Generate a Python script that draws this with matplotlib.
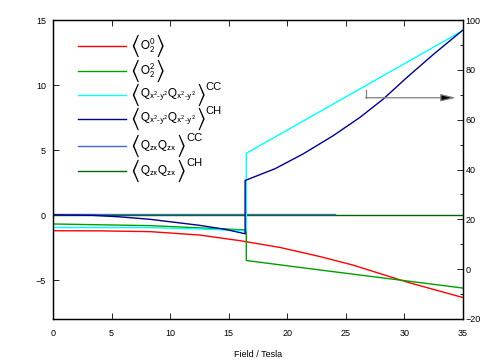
import matplotlib
matplotlib.use("Agg")
import matplotlib.pyplot as plt
from matplotlib.ticker import MultipleLocator

plt.rcParams['font.family'] = ['Liberation Sans', 'DejaVu Sans']
plt.rcParams['mathtext.fontset'] = 'stixsans'

# ---- data (left axis) ----
o20_x = [0, 4, 8.3, 12.5, 16.0, 19.4, 22.8, 25.6, 30.3, 35]
o20_y = [-1.21, -1.22, -1.28, -1.54, -1.98, -2.5, -3.2, -3.85, -5.18, -6.35]

o22_x = [0, 8.3, 16.5, 16.5, 22.8, 30.0, 35]
o22_y = [-0.69, -0.82, -1.15, -3.5, -4.23, -5.05, -5.62]

qzx_cc_x = [0, 24.1]
qzx_cc_y = [0.05, 0.05]

qzx_ch_x = [0, 35]
qzx_ch_y = [0.0, 0.0]

# ---- data (right axis) ----
qx2_cc_x = [0, 8.0, 12.0, 16.5, 16.5, 35]
qx2_cc_y = [16.7, 16.7, 16.2, 15.4, 46.5, 95.8]

qx2_ch_x = [0, 3.4, 5.7, 8.3, 10.4, 12.5, 14.7, 16.4, 16.4, 18.95, 21.37, 23.93, 26.2, 28.2, 30.2, 32.5, 35]
qx2_ch_y = [21.8, 21.6, 21.0, 20.0, 18.8, 17.6, 16.0, 14.2, 35.6, 40.3, 46.3, 53.6, 60.9, 68.3, 76.9, 86.3, 96.0]

x_ticks = [0, 5, 10, 15, 20, 25, 30, 35]
left_ticks = [-5, 0, 5, 10, 15]
right_ticks = [-20, 0, 20, 40, 60, 80, 100]

c_red = '#ff0000'
c_green = '#00a000'
c_cyan = '#00ffff'
c_navy = '#00008b'
c_blue = '#3f6fbf'
c_dgreen = '#006400'

fig = plt.figure(figsize=(4.88, 3.62), dpi=100)
ax = fig.add_axes([53/488, 1-319/362, 410/488, 299/362])
ax2 = ax.twinx()

lw = 1.0
ax.plot(qzx_ch_x, qzx_ch_y, color=c_dgreen, lw=lw)
ax.plot(qzx_cc_x, qzx_cc_y, color=c_blue, lw=lw)
ax.plot(o20_x, o20_y, color=c_red, lw=lw)
ax.plot(o22_x, o22_y, color=c_green, lw=lw)
ax2.plot(qx2_cc_x, qx2_cc_y, color=c_cyan, lw=lw)
ax2.plot(qx2_ch_x, qx2_ch_y, color=c_navy, lw=lw)

ax.set_xlim(0, 35)
ax.set_ylim(-8, 15)
ax2.set_ylim(-20, 100)
ax.set_xticks(x_ticks)
ax.set_yticks(left_ticks)
ax2.set_yticks(right_ticks)
ax2.yaxis.set_minor_locator(MultipleLocator(10))

fs = 6.5
ax.tick_params(axis='both', direction='in', labelsize=fs, length=4, width=0.6, top=True, pad=7)
ax.tick_params(axis='y', pad=5)
ax2.tick_params(axis='y', direction='in', labelsize=fs, length=4, width=0.6, pad=2)
ax2.tick_params(axis='y', which='minor', direction='in', length=2, width=0.6)
for a in (ax, ax2):
    for s in a.spines.values():
        s.set_linewidth(0.9)

ax.set_xlabel('Field / Tesla', fontsize=fs, labelpad=9)

# arrow indicating right axis
ax2.annotate('', xy=(34.4, 68.8), xytext=(26.7, 68.8),
             arrowprops=dict(arrowstyle='-|>,head_length=0.9,head_width=0.22',
                             ec='#808080', fc='black', lw=0.9, shrinkA=0, shrinkB=0))
ax2.plot([26.7, 26.7], [68.8, 71.8], color='#808080', lw=0.9)

# legend drawn manually
labels = [
    (r'$\mathrm{O}_{2}^{0}$', None, c_red),
    (r'$\mathrm{O}_{2}^{2}$', None, c_green),
    (r'$\mathrm{Q}_{\mathrm{x^2\text{-}y^2}}\mathrm{Q}_{\mathrm{x^2\text{-}y^2}}$', 'CC', c_cyan),
    (r'$\mathrm{Q}_{\mathrm{x^2\text{-}y^2}}\mathrm{Q}_{\mathrm{x^2\text{-}y^2}}$', 'CH', c_navy),
    (r'$\mathrm{Q}_{\mathrm{zx}}\mathrm{Q}_{\mathrm{zx}}$', 'CC', c_blue),
    (r'$\mathrm{Q}_{\mathrm{zx}}\mathrm{Q}_{\mathrm{zx}}$', 'CH', c_dgreen),
]
rows_px = [45.7, 70.7, 94.5, 118.5, 145.7, 170.7]
for (lab, sup, col), py in zip(labels, rows_px):
    yy = (319 - py) / 299
    ax.plot([(78-53)/410, (126-53)/410], [yy, yy], color=col, lw=lw, transform=ax.transAxes, clip_on=False)
    t1 = ax.text((130-53)/410, yy, r'$\langle$', transform=ax.transAxes, fontsize=17, va='center', ha='left')
    t2 = ax.annotate(lab, xy=(1, 0.5), xycoords=t1, xytext=(0, 0), textcoords='offset points',
                     fontsize=9, va='center', ha='left')
    t3 = ax.annotate(r'$\rangle$', xy=(1, 0.5), xycoords=t2, xytext=(0, 0), textcoords='offset points',
                     fontsize=17, va='center', ha='left')
    if sup:
        ax.annotate(sup, xy=(1, 1), xycoords=t3, xytext=(0, -4), textcoords='offset points',
                    fontsize=8, ha='left', va='center')

fig.savefig('out.png', dpi=100)
